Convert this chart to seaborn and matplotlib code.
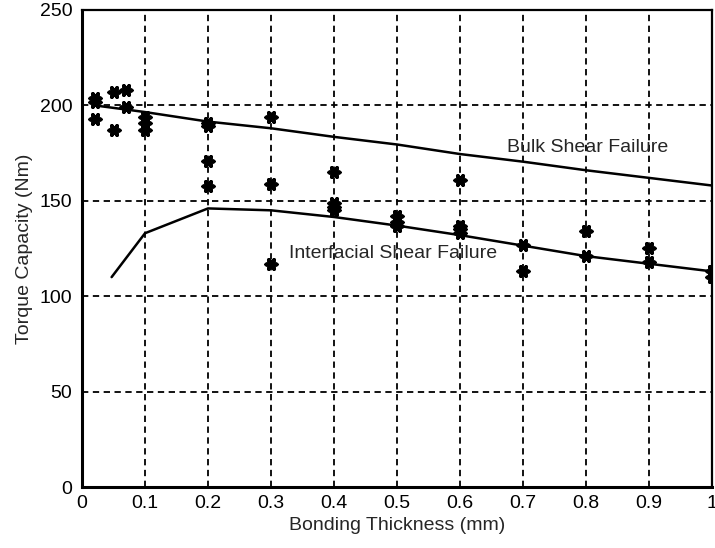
import matplotlib
matplotlib.use("Agg")
import matplotlib.pyplot as plt
import seaborn as sns
import pandas as pd

# Measured torque capacity for each bonding thickness
thickness = [0.02, 0.02, 0.02,
             0.05, 0.05,
             0.07, 0.07,
             0.1, 0.1, 0.1,
             0.2, 0.2, 0.2, 0.2,
             0.3, 0.3, 0.3,
             0.4, 0.4, 0.4, 0.4,
             0.5, 0.5, 0.5,
             0.6, 0.6, 0.6, 0.6,
             0.7, 0.7,
             0.8, 0.8,
             0.9, 0.9,
             1.0, 1.0]
torque = [204, 202, 193,
          207, 187,
          208, 199,
          194, 191, 187,
          191, 189, 171, 158,
          194, 159, 117,
          165, 149, 147, 145,
          142, 139, 137,
          161, 137, 135, 133,
          127, 113,
          134, 121,
          125, 118,
          113, 110]

# Predicted capacity for the two failure modes
bulk_x = [0.02, 0.1, 0.2, 0.3, 0.4, 0.5, 0.6, 0.7, 0.8, 0.9, 1.0]
bulk_y = [200, 196.5, 191.5, 188, 183.5, 179.5, 174.5, 170.5, 166, 162, 158]
inter_x = [0.047, 0.1, 0.2, 0.3, 0.4, 0.5, 0.6, 0.7, 0.8, 0.9, 1.0]
inter_y = [110, 133, 146, 145, 141.5, 137, 132, 126.5, 121, 117, 113]

x_ticks = [0, 0.1, 0.2, 0.3, 0.4, 0.5, 0.6, 0.7, 0.8, 0.9, 1.0]
x_tick_labels = ["0", "0.1", "0.2", "0.3", "0.4", "0.5", "0.6", "0.7", "0.8", "0.9", "1"]
y_ticks = [0, 50, 100, 150, 200, 250]

sns.set_style("white")
plt.rcParams["font.family"] = ["Liberation Sans", "DejaVu Sans"]

fig = plt.figure(figsize=(7.15, 5.48), dpi=100)
ax = fig.add_axes([0.1147, 0.1113, 0.8811, 0.8705])

meas = pd.DataFrame({"thickness": thickness, "torque": torque})
bulk = pd.DataFrame({"thickness": bulk_x, "torque": bulk_y})
inter = pd.DataFrame({"thickness": inter_x, "torque": inter_y})

sns.lineplot(data=bulk, x="thickness", y="torque", ax=ax, color="black",
             linewidth=1.8, sort=False)
sns.lineplot(data=inter, x="thickness", y="torque", ax=ax, color="black",
             linewidth=1.8, sort=False)
sns.scatterplot(data=meas, x="thickness", y="torque", ax=ax, marker=(6, 2, 90),
                s=55, color="black", edgecolor="black", linewidth=2.8, zorder=5)

ax.set_xlim(0, 1.0)
ax.set_ylim(0, 250)
ax.set_xticks(x_ticks)
ax.set_xticklabels(x_tick_labels)
ax.set_yticks(y_ticks)
ax.tick_params(axis="both", direction="inout", width=1.3, labelsize=14,
               color="black", labelcolor="black")
ax.tick_params(axis="y", length=12, pad=1)
ax.tick_params(axis="x", length=8, pad=2)

ax.grid(True, color="black", linestyle=(0, (3.5, 2.5)), linewidth=1.3)
for s in ax.spines.values():
    s.set_color("black")
    s.set_visible(True)
ax.spines["left"].set_linewidth(2.2)
ax.spines["bottom"].set_linewidth(2.2)
ax.spines["top"].set_linewidth(1.6)
ax.spines["right"].set_linewidth(1.6)

ax.set_xlabel("Bonding Thickness (mm)", fontsize=14, labelpad=3)
ax.set_ylabel("Torque Capacity (Nm)", fontsize=14, labelpad=5)

ax.text(0.803, 178, "Bulk Shear Failure", fontsize=14, ha="center", va="center")
ax.text(0.494, 122.5, "Interfacial Shear Failure", fontsize=14, ha="center", va="center")

fig.savefig("out.png", dpi=100)
